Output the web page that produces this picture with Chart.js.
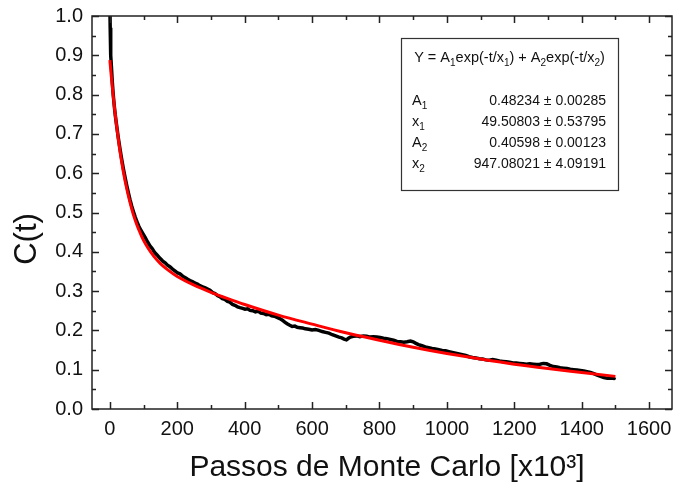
<!DOCTYPE html>
<html>
<head>
<meta charset="utf-8">
<title>C(t)</title>
<script src="https://cdn.jsdelivr.net/npm/chart.js@4.4.1/dist/chart.umd.min.js"></script>
<style>
  html, body { margin: 0; padding: 0; background: #fff; }
  #wrap { width: 677px; height: 488px; }
</style>
</head>
<body>
<div id="wrap"><canvas id="corr" width="677" height="488"></canvas></div>
<script>
/* Autocorrelation C(t) from the simulation, t in units of 10^3 MC steps */
let simSteps = [
  0, 1, 2, 3, 5, 7, 10, 13, 16, 20, 25, 30, 35, 40, 45, 50, 55, 60, 65, 70,
  75, 80, 86, 92, 98, 105, 112, 119, 126, 133, 140, 148, 156, 164, 171, 178, 186, 194, 201, 208,
  216, 224, 231, 238, 246, 253, 260, 267, 275, 283, 290, 297, 305, 312, 320, 326, 334, 341, 349, 356,
  364, 371, 379, 386, 394, 401, 409, 416, 424, 432, 440, 448, 456, 464, 472, 480, 488, 496, 504, 512,
  519, 526, 534, 541, 549, 556, 564, 572, 580, 590, 600, 610, 620, 630, 640, 650, 660, 670, 680, 688,
  695, 702, 708, 714, 722, 732, 742, 752, 762, 772, 782, 792, 802, 812, 822, 832, 842, 852, 862, 872,
  882, 892, 900, 908, 916, 926, 936, 946, 956, 966, 976, 986, 996, 1006, 1016, 1026, 1036, 1046, 1056, 1066,
  1076, 1086, 1096, 1106, 1116, 1126, 1136, 1146, 1156, 1166, 1176, 1186, 1196, 1206, 1216, 1226, 1236, 1246, 1256, 1266,
  1276, 1286, 1296, 1306, 1316, 1326, 1336, 1346, 1356, 1366, 1376, 1386, 1396, 1406, 1416, 1426, 1436, 1446, 1456, 1466,
  1476, 1486, 1496, 1500
]
let simCorr = [
  1.03, 0.97, 0.93, 0.90, 0.865, 0.835, 0.80, 0.772, 0.748, 0.722, 0.69, 0.662, 0.636, 0.612, 0.59, 0.569, 0.55, 0.532, 0.516, 0.502,
  0.489, 0.477, 0.465, 0.455, 0.446, 0.436, 0.425, 0.415, 0.408, 0.398, 0.392, 0.384, 0.377, 0.372, 0.366, 0.362, 0.356, 0.351, 0.346, 0.344,
  0.338, 0.334, 0.330, 0.327, 0.324, 0.320, 0.318, 0.314, 0.311, 0.308, 0.305, 0.302, 0.296, 0.294, 0.288, 0.286, 0.281, 0.279, 0.274, 0.272,
  0.266, 0.264, 0.260, 0.258, 0.256, 0.254, 0.255, 0.251, 0.250, 0.247, 0.249, 0.244, 0.243, 0.240, 0.241, 0.237, 0.236, 0.233, 0.230, 0.226,
  0.221, 0.217, 0.213, 0.210, 0.211, 0.208, 0.207, 0.206, 0.204, 0.203, 0.201, 0.202, 0.200, 0.197, 0.195, 0.193, 0.189, 0.186, 0.183, 0.181,
  0.178, 0.176, 0.180, 0.183, 0.185, 0.186, 0.184, 0.186, 0.185, 0.183, 0.184, 0.183, 0.182, 0.180, 0.179, 0.177, 0.175, 0.172, 0.171, 0.170,
  0.171, 0.173, 0.171, 0.167, 0.164, 0.161, 0.158, 0.156, 0.154, 0.153, 0.151, 0.149, 0.148, 0.146, 0.144, 0.142, 0.140, 0.138, 0.136, 0.133,
  0.131, 0.130, 0.128, 0.127, 0.125, 0.124, 0.126, 0.124, 0.122, 0.121, 0.120, 0.119, 0.117, 0.117, 0.116, 0.115, 0.114, 0.115, 0.114, 0.113,
  0.114, 0.116, 0.115, 0.111, 0.108, 0.107, 0.105, 0.104, 0.103, 0.101, 0.100, 0.099, 0.098, 0.097, 0.095, 0.093, 0.090, 0.086, 0.083, 0.080,
  0.078, 0.079, 0.078, 0.080
]

/* Double exponential fit curve */
let fitSteps = [0, 5, 10, 15, 20, 25, 30, 35, 40, 50, 60, 70, 80, 90, 100, 115, 130, 150, 175, 200,
  250, 300, 350, 400, 500, 600, 700, 800, 900, 1000, 1100, 1200, 1300, 1400, 1500]
let fitCorr = [0.888, 0.840, 0.796, 0.756, 0.720, 0.687, 0.656, 0.629, 0.604, 0.561, 0.525, 0.494, 0.469, 0.448, 0.429, 0.407, 0.389, 0.370, 0.352, 0.337,
  0.315, 0.297, 0.281, 0.266, 0.239, 0.216, 0.194, 0.175, 0.157, 0.141, 0.127, 0.114, 0.103, 0.093, 0.083]

/* Fit parameters (name, subscript, value, error) */
let paramNames = ['A', 'x', 'A', 'x']
let paramSubs = ['1', '1', '2', '2']
let paramValues = ['0.48234', '49.50803', '0.40598', '947.08021']
let paramErrors = ['0.00285', '0.53795', '0.00123', '4.09191']

let xTicks = [0, 200, 400, 600, 800, 1000, 1200, 1400, 1600]
let yTicks = [0, 0.1, 0.2, 0.3, 0.4, 0.5, 0.6, 0.7, 0.8, 0.9, 1.0]

const FONT = '"Liberation Sans", Arial, sans-serif'
const INK = '#111'

function midpoints(arr) {
  let out = []
  for (let i = 0; i < arr.length - 1; i++) out.push((arr[i] + arr[i + 1]) / 2)
  return out
}

// writes a run of [text, isSubscript] pieces, returns the width used
function drawRich(ctx, pieces, x, y, size, measureOnly) {
  let w = 0
  pieces.forEach(p => {
    let sub = p[1]
    ctx.font = (sub ? Math.round(size * 0.7) : size) + 'px ' + FONT
    if (!measureOnly) ctx.fillText(p[0], x + w, sub ? y + 4 : y)
    w += ctx.measureText(p[0]).width
  })
  return w
}

let frameAndText = {
  id: 'frameAndText',
  afterDraw(chart) {
    let ctx = chart.ctx
    let area = chart.chartArea
    let xs = chart.scales.x
    let ys = chart.scales.y

    ctx.save()
    ctx.strokeStyle = '#222'
    ctx.lineWidth = 1.5
    ctx.strokeRect(area.left, area.top, area.right - area.left, area.bottom - area.top)

    // inward ticks on all four sides
    ctx.beginPath()
    let xTick = (v, len) => {
      let px = Math.round(xs.getPixelForValue(v)) + 0.5
      ctx.moveTo(px, area.bottom); ctx.lineTo(px, area.bottom - len)
      ctx.moveTo(px, area.top); ctx.lineTo(px, area.top + len)
    }
    let yTick = (v, len) => {
      let py = Math.round(ys.getPixelForValue(v)) + 0.5
      ctx.moveTo(area.left, py); ctx.lineTo(area.left + len, py)
      ctx.moveTo(area.right, py); ctx.lineTo(area.right - len, py)
    }
    xTicks.forEach(v => xTick(v, 7))
    midpoints(xTicks).forEach(v => xTick(v, 4))
    yTicks.forEach(v => yTick(v, 7))
    midpoints(yTicks).forEach(v => yTick(v, 4))
    ctx.stroke()

    // axis titles
    ctx.fillStyle = INK
    ctx.font = '30px ' + FONT
    ctx.textAlign = 'center'
    ctx.textBaseline = 'alphabetic'
    ctx.fillText('Passos de Monte Carlo [x10³]', 387, 476)
    ctx.save()
    ctx.translate(36, 239)
    ctx.rotate(-Math.PI / 2)
    ctx.font = '31px ' + FONT
    ctx.fillText('C(t)', 0, 0)
    ctx.restore()

    // fit parameter box
    let bx = 401, by = 38, bw = 217, bh = 152
    ctx.fillStyle = '#fff'
    ctx.fillRect(bx, by, bw, bh)
    ctx.strokeStyle = '#333'
    ctx.lineWidth = 1.2
    ctx.strokeRect(bx + 0.5, by + 0.5, bw, bh)

    ctx.fillStyle = INK
    ctx.textAlign = 'left'
    let eq = [['Y = A', 0], ['1', 1], ['exp(-t/x', 0], ['1', 1], [') + A', 0], ['2', 1], ['exp(-t/x', 0], ['2', 1], [')', 0]]
    let eqW = drawRich(ctx, eq, 0, 0, 14.5, true)
    drawRich(ctx, eq, bx + (bw - eqW) / 2, 62, 14.5, false)

    for (let i = 0; i < paramNames.length; i++) {
      let y = 105 + i * 21
      ctx.textAlign = 'left'
      drawRich(ctx, [[paramNames[i], 0], [paramSubs[i], 1]], 412, y, 14.5, false)
      ctx.textAlign = 'right'
      ctx.font = '14px ' + FONT
      ctx.fillText(paramValues[i] + ' ± ' + paramErrors[i], 606, y)
    }
    ctx.restore()
  }
}

let ctx = document.querySelector('#corr').getContext('2d')

let corrChart = new Chart(ctx, {
  type: 'line',
  data: {
    datasets: [
      {
        label: 'fit',
        data: fitSteps.map((t, i) => ({ x: t, y: fitCorr[i] })),
        borderColor: '#ff0000',
        borderWidth: 3,
        pointRadius: 0,
        cubicInterpolationMode: 'monotone',
        order: 0
      },
      {
        label: 'C(t)',
        data: simSteps.map((t, i) => ({ x: t, y: simCorr[i] })),
        borderColor: '#000',
        borderWidth: 3.5,
        pointRadius: 0,
        tension: 0,
        order: 1
      }
    ]
  },
  options: {
    responsive: false,
    animation: false,
    devicePixelRatio: 1,
    layout: { padding: { top: 16, right: 5, left: 0, bottom: 0 } },
    plugins: { legend: { display: false }, tooltip: { enabled: false } },
    scales: {
      x: {
        type: 'linear',
        min: -53,
        max: 1668,
        afterBuildTicks: s => { s.ticks = xTicks.map(v => ({ value: v })) },
        afterFit: s => { s.height = 79; s.paddingLeft = 0; s.paddingRight = 0 },
        grid: { display: false, drawTicks: false },
        border: { display: false },
        ticks: {
          color: INK,
          font: { family: FONT, size: 20 },
          padding: 8,
          maxRotation: 0,
          callback: v => String(v)
        }
      },
      y: {
        type: 'linear',
        min: 0,
        max: 1,
        afterBuildTicks: s => { s.ticks = yTicks.map(v => ({ value: v })) },
        afterFit: s => { s.width = 92; s.paddingTop = 0; s.paddingBottom = 0 },
        grid: { display: false, drawTicks: false },
        border: { display: false },
        ticks: {
          color: INK,
          font: { family: FONT, size: 20 },
          padding: 9,
          callback: v => v.toFixed(1)
        }
      }
    }
  },
  plugins: [frameAndText]
})
</script>
</body>
</html>
